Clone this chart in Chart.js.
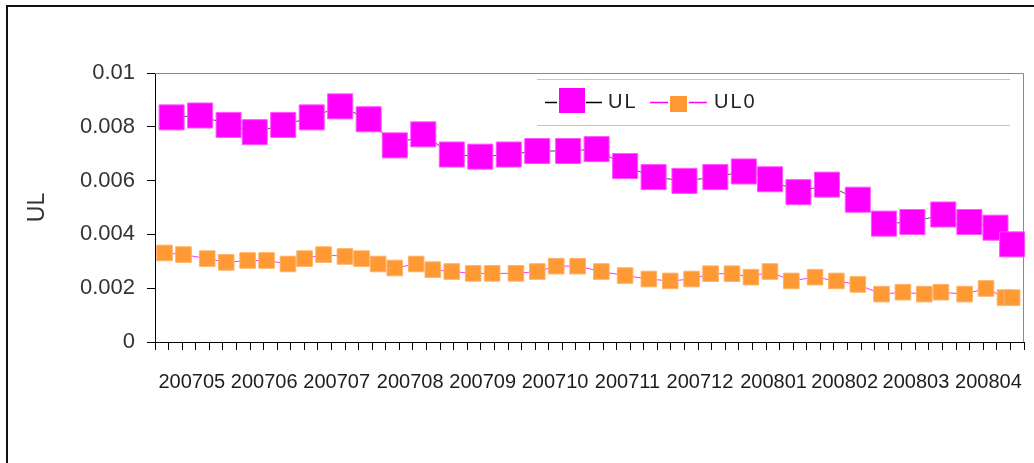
<!DOCTYPE html>
<html>
<head>
<meta charset="utf-8">
<script src="https://cdn.jsdelivr.net/npm/chart.js@4.4.1/dist/chart.umd.min.js"></script>
<style>
  html, body { margin: 0; padding: 0; background: #fff; overflow: hidden; }
  #wrap { width: 1034px; height: 463px; position: relative; }
</style>
</head>
<body>
<div id="wrap"><canvas id="chart" width="1034" height="463"></canvas></div>
<script>
// Month labels along the date axis (one label per month, centred in the month)
const monthLabels = ['200705', '200706', '200707', '200708', '200709', '200710',
                     '200711', '200712', '200801', '200802', '200803', '200804'];
const monthLengths = [31, 30, 31, 31, 30, 31, 30, 31, 31, 29, 31, 30];

// UL samples: day offset from 2007-05-01 and value
const ulDays = [7, 19, 31, 42, 54, 66, 78, 90, 101, 113, 125, 137, 149, 161, 174, 186,
                198, 210, 223, 236, 248, 259, 271, 283, 296, 307, 319, 332, 343, 354, 361];
const ulValues = [0.00835, 0.00842, 0.00807, 0.00780, 0.00807, 0.00835, 0.00876, 0.00828,
                  0.00731, 0.00772, 0.00697, 0.00689, 0.00697, 0.00710, 0.00710, 0.00717,
                  0.00654, 0.00613, 0.00599, 0.00613, 0.00634, 0.00605, 0.00557, 0.00585,
                  0.00529, 0.00440, 0.00446, 0.00474, 0.00446, 0.00425, 0.00363];

// UL0 samples: day offset from 2007-05-01 and value
const ul0Days = [4, 12, 22, 30, 39, 47, 56, 63, 71, 80, 87, 94, 101, 110, 117, 125, 134,
                 142, 152, 161, 169, 178, 188, 198, 208, 217, 226, 234, 243, 251, 259, 268,
                 278, 287, 296, 306, 315, 324, 331, 341, 350, 358, 361];
const ul0Values = [0.00331, 0.00325, 0.00310, 0.00296, 0.00303, 0.00303, 0.00290, 0.00310,
                   0.00325, 0.00318, 0.00310, 0.00290, 0.00275, 0.00290, 0.00269, 0.00262,
                   0.00255, 0.00255, 0.00255, 0.00262, 0.00282, 0.00282, 0.00262, 0.00247,
                   0.00234, 0.00227, 0.00234, 0.00254, 0.00254, 0.00241, 0.00262, 0.00227,
                   0.00241, 0.00227, 0.00214, 0.00178, 0.00185, 0.00178, 0.00185, 0.00178,
                   0.00199, 0.00165, 0.00165];

// Value axis ticks and their labels
const yTickValues = [0, 0.002, 0.004, 0.006, 0.008, 0.01];
const yTickLabels = ['0', '0.002', '0.004', '0.006', '0.008', '0.01'];

const seriesNames = ['UL', 'UL0'];

// ---- derived layout helpers ----
const totalDays = monthLengths.reduce((a, b) => a + b, 0);
const monthMids = [];
{
  let start = 0;
  monthLengths.forEach(len => { monthMids.push(start + len / 2); start += len; });
}
const MINOR_STEPS = 64;

const MAGENTA = '#FF00FF';
const ORANGE = '#FF9933';
const FONT = "'Liberation Sans', Arial, sans-serif";

const toPoints = (xs, ys) => xs.map((x, i) => ({ x, y: ys[i] }));

// Page frame, plot frame and legend
const framePlugin = {
  id: 'frame',
  beforeDraw(chart) {
    const ctx = chart.ctx;
    ctx.save();
    ctx.fillStyle = '#fff';
    ctx.fillRect(0, 0, chart.width, chart.height);
    ctx.strokeStyle = '#111';
    ctx.lineWidth = 2;
    ctx.strokeRect(7, 6, chart.width + 20, chart.height + 20);
    ctx.restore();
  },
  beforeDatasetsDraw(chart) {
    const { ctx, chartArea: a } = chart;
    ctx.save();
    ctx.strokeStyle = '#8a8a8a';
    ctx.lineWidth = 1;
    ctx.beginPath();
    ctx.moveTo(a.left, a.top + 0.5);
    ctx.lineTo(a.right - 0.5, a.top + 0.5);
    ctx.lineTo(a.right - 0.5, a.bottom);
    ctx.stroke();
    ctx.restore();
  },
  afterDraw(chart) {
    const ctx = chart.ctx;
    ctx.save();
    // legend frame lines
    ctx.strokeStyle = '#c4c4c4';
    ctx.lineWidth = 1;
    ctx.beginPath();
    ctx.moveTo(537, 79.5); ctx.lineTo(1010, 79.5);
    ctx.moveTo(537, 125.5); ctx.lineTo(1010, 125.5);
    ctx.stroke();

    // UL entry
    ctx.lineWidth = 1.5;
    ctx.strokeStyle = '#000';
    ctx.beginPath();
    ctx.moveTo(545, 102.5); ctx.lineTo(557, 102.5);
    ctx.moveTo(586, 102.5); ctx.lineTo(602, 102.5);
    ctx.stroke();
    ctx.fillStyle = MAGENTA;
    ctx.fillRect(559, 88, 26, 25);

    // UL0 entry
    ctx.strokeStyle = MAGENTA;
    ctx.beginPath();
    ctx.moveTo(650, 102.5); ctx.lineTo(668, 102.5);
    ctx.moveTo(689, 102.5); ctx.lineTo(707, 102.5);
    ctx.stroke();
    ctx.fillStyle = ORANGE;
    ctx.fillRect(670, 96, 17, 16);

    ctx.fillStyle = '#222';
    ctx.font = '20px ' + FONT;
    ctx.textBaseline = 'middle';
    ctx.textAlign = 'left';
    if ('letterSpacing' in ctx) ctx.letterSpacing = '2px';
    ctx.fillText(seriesNames[0], 608, 102);
    ctx.fillText(seriesNames[1], 714, 102);
    ctx.restore();
  }
};

const chart = new Chart(document.getElementById('chart'), {
  type: 'line',
  data: {
    datasets: [
      {
        label: seriesNames[0],
        data: toPoints(ulDays, ulValues),
        borderColor: '#000',
        borderWidth: 0.7,
        pointStyle: 'rect',
        pointRadius: 17.7,
        pointHoverRadius: 17.7,
        pointBackgroundColor: MAGENTA,
        pointBorderColor: '#ff55ff',
        pointBorderWidth: 1,
        tension: 0,
        clip: false
      },
      {
        label: seriesNames[1],
        data: toPoints(ul0Days, ul0Values),
        borderColor: MAGENTA,
        borderWidth: 0.8,
        pointStyle: 'rect',
        pointRadius: 11,
        pointHoverRadius: 11,
        pointBackgroundColor: ORANGE,
        pointBorderColor: '#ffb066',
        pointBorderWidth: 1,
        tension: 0,
        clip: false
      }
    ]
  },
  options: {
    responsive: false,
    animation: false,
    events: [],
    layout: { padding: { left: 0, top: 73, right: 10, bottom: 0 } },
    plugins: {
      legend: { display: false },
      tooltip: { enabled: false }
    },
    scales: {
      x: {
        type: 'linear',
        position: 'bottom',
        min: 0,
        max: totalDays,
        afterBuildTicks(scale) {
          const ticks = [];
          for (let i = 0; i <= MINOR_STEPS; i++) {
            ticks.push({ value: i * totalDays / MINOR_STEPS });
          }
          monthMids.forEach((v, i) => ticks.push({ value: v, month: monthLabels[i] }));
          ticks.sort((a, b) => a.value - b.value);
          scale.ticks = ticks;
        },
        afterFit(scale) {
          scale.height = 121;
          // the plot frame runs to the layout padding on both sides
          scale.paddingLeft = 0;
          scale.paddingRight = 0;
        },
        border: { display: true, color: '#000', width: 1 },
        grid: {
          display: true,
          drawOnChartArea: false,
          drawTicks: true,
          tickLength: 8,
          tickWidth: 1,
          tickColor: (c) => (c.tick && c.tick.month) ? 'rgba(0,0,0,0)' : '#000'
        },
        ticks: {
          autoSkip: false,
          maxRotation: 0,
          minRotation: 0,
          padding: 20,
          color: '#1e1e1e',
          font: { family: FONT, size: 20 },
          callback: (value, index, ticks) => ticks[index].month || ''
        }
      },
      y: {
        type: 'linear',
        position: 'left',
        min: 0,
        max: 0.01,
        afterBuildTicks(scale) {
          scale.ticks = yTickValues.map(v => ({ value: v }));
        },
        afterFit(scale) { scale.width = 155; },
        border: { display: true, color: '#000', width: 1 },
        grid: {
          display: true,
          drawOnChartArea: false,
          drawTicks: true,
          tickLength: 8,
          tickColor: '#000'
        },
        ticks: {
          padding: 12,
          color: '#333',
          font: { family: FONT, size: 22 },
          callback: (value, index) => yTickLabels[index]
        },
        title: {
          display: true,
          text: 'UL',
          color: '#333',
          font: { family: FONT, size: 23 },
          padding: { top: 24, bottom: 0 }
        }
      }
    }
  },
  plugins: [framePlugin]
});

// The big square markers must not shrink the plot area: the frame is fixed by the layout padding.
chart.data.datasets.forEach((ds, i) => {
  chart.getDatasetMeta(i).controller.getMaxOverflow = () => 0;
});
chart.update();
</script>
</body>
</html>
